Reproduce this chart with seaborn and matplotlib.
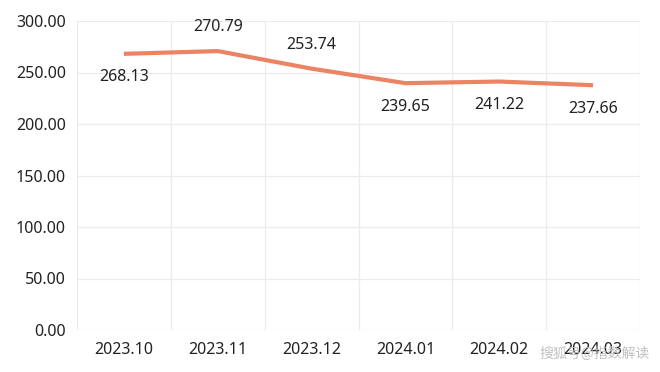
import matplotlib
matplotlib.use("Agg")
import matplotlib.pyplot as plt
import seaborn as sns
import pandas as pd
import numpy as np
from matplotlib.ticker import FixedLocator

months = ["2023.10", "2023.11", "2023.12", "2024.01", "2024.02", "2024.03"]
values = [268.13, 270.79, 253.74, 239.65, 241.22, 237.66]
label_side = ["below", "above", "above", "below", "below", "below"]
yticks = [0, 50, 100, 150, 200, 250, 300]

sns.set_theme(style="white")
plt.rcParams['font.family'] = ['Noto Sans', 'Noto Sans CJK SC', 'DejaVu Sans']

df = pd.DataFrame({"month": months, "value": values})

fig = plt.figure(figsize=(6.6, 3.72), dpi=100)
ax = fig.add_axes([77/660, 1-330/372, (640-77)/660, (330-21)/372])

sns.lineplot(data=df, x="month", y="value", ax=ax, color="#EA8462", linewidth=3.0,
             sort=False, solid_capstyle="butt", zorder=3)

ax.set_xlim(-0.5, len(months) - 0.5)
ax.set_ylim(0, 300)
ax.set_yticks(yticks)
ax.set_yticklabels([f"{v:.2f}" for v in yticks])
ax.set_xticks(range(len(months)))
ax.set_xticklabels(months)
ax.xaxis.set_minor_locator(FixedLocator(np.arange(-0.5, len(months), 1.0)))
ax.set_xlabel("")
ax.set_ylabel("")

ax.grid(axis="y", which="major", color="#EBEBEB", linewidth=0.9)
ax.grid(axis="x", which="minor", color="#EBEBEB", linewidth=0.9)
ax.grid(axis="x", which="major", visible=False)
for s in ax.spines.values():
    s.set_visible(False)
ax.tick_params(axis="both", which="both", length=0, labelsize=11.5, colors="#222222")
ax.tick_params(axis="x", pad=9)
ax.tick_params(axis="y", pad=8)

for i, (v, side) in enumerate(zip(values, label_side)):
    off = 17 if side == "above" else -17
    ax.annotate(f"{v:.2f}", (i, v), xytext=(0, off), textcoords="offset points",
                ha="center", va="center", fontsize=11.5, color="#222222")

fig.text(0.985, 0.048, "搜狐号@指数解读", ha="right", va="center", fontsize=10,
         color="#BBBBBB", alpha=0.9, family=['Noto Sans CJK SC', 'DejaVu Sans'])

fig.savefig("out.png", dpi=100)
